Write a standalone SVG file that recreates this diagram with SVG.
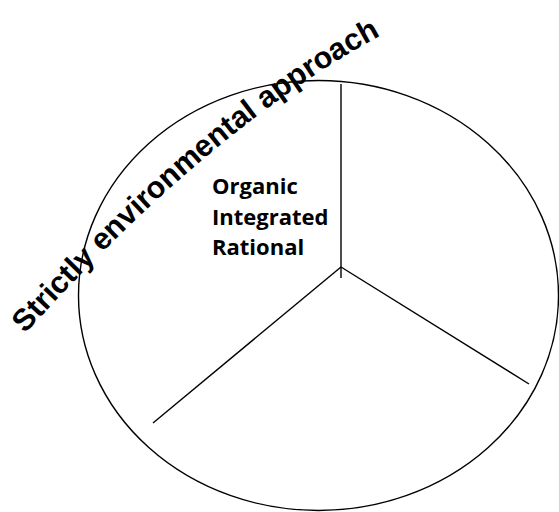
<svg xmlns="http://www.w3.org/2000/svg" width="559" height="512" viewBox="0 0 559 512">
  <style>
    .outline { fill: none; stroke: #000; stroke-width: 1.4; }
    .spoke { fill: none; stroke: #000; stroke-width: 1.4; stroke-linecap: butt; }
    .arc-label { font-family: "Liberation Sans", Arial, sans-serif; font-weight: 700; font-size: 30.5px; fill: #000; }
    .list-label { font-family: "Open Sans", "Noto Sans", sans-serif; font-weight: 700; font-size: 22px; fill: #000; }
  </style>
  <defs>
    <!-- gently arched baseline for the title, with a straight run-out so no glyph is dropped -->
    <path id="arcBaseline" d="M 25 334 Q 214.3 123.7 387 32 L 431 8.6"/>
  </defs>
  <rect width="559" height="512" fill="#fff"/>

  <g id="circle">
    <ellipse class="outline" cx="318.5" cy="295.5" rx="240" ry="215"/>
  </g>

  <g id="connectors">
    <line class="spoke" x1="341" y1="84" x2="341" y2="278"/>
    <line class="spoke" x1="341" y1="267" x2="153" y2="423"/>
    <line class="spoke" x1="341" y1="267" x2="529" y2="384"/>
  </g>

  <g id="arc-title">
    <text class="arc-label"><textPath href="#arcBaseline">Strictly environmental approach</textPath></text>
  </g>

  <g id="sector-labels">
    <text class="list-label" x="212" y="194">Organic</text>
    <text class="list-label" x="212" y="225">Integrated</text>
    <text class="list-label" x="212" y="255">Rational</text>
  </g>
</svg>
